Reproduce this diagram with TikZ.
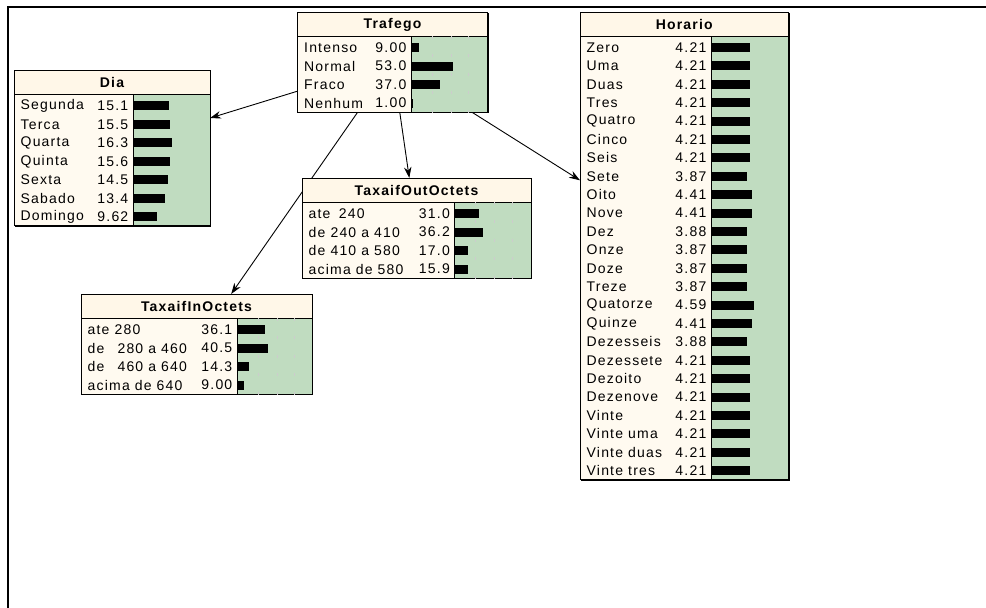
\documentclass[tikz,border=0pt]{standalone}
\usepackage{fontspec}
\setmainfont{Liberation Sans}[LetterSpace=8.5]
\usetikzlibrary{arrows.meta}
\definecolor{cream}{RGB}{255,250,240}
\definecolor{titlecream}{RGB}{255,247,232}
\definecolor{netgreen}{RGB}{192,220,192}
\tikzset{
  boxnode/.style={rectangle, draw=none, inner sep=0pt, outer sep=0pt, anchor=north west},
  lab/.style={anchor=west, inner sep=0pt, font=\fontsize{14}{15}\selectfont},
  val/.style={anchor=east, inner sep=0pt, font=\fontsize{14}{15}\selectfont},
  ttl/.style={inner sep=0pt, font=\fontsize{14}{15}\selectfont\bfseries},
  link/.style={-{Stealth[length=11pt,width=7.5pt]}, line width=0.9pt},
  tickmark/.style={draw=gray!40, line width=0.6pt},
}
% name, left, top, right, n, spacing
\newcommand\netbox[6]{%
  \pgfmathsetmacro\nbW{#4-#2}%
  \pgfmathsetmacro\nbH{26+#5*#6}%
  \node[boxnode, minimum width=\nbW pt, minimum height=\nbH pt] (#1) at (#2,#3) {};%
}
% name, left, top, right, green, n, spacing, title, rows
\newcommand\netdraw[9]{%
  \pgfmathsetmacro\nbSep{#3+24}%
  \pgfmathsetmacro\nbBot{#3+26+#6*#7}%
  \fill[titlecream] (#2,#3) rectangle (#4,\nbSep);
  \fill[cream] (#2,\nbSep) rectangle (#5,\nbBot);
  \fill[netgreen] (#5,\nbSep) rectangle (#4,\nbBot);
  \node[ttl] (#1-t) at ({(#2+#4)/2},{#3+12.5}) {#8};
  \foreach \l/\v/\b [count=\i] in {#9} {
    \pgfmathsetmacro\nbY{\nbSep+11.5+(\i-1)*#7}
    \node[lab] (#1-l\i) at (#2+6.5,\nbY) {\l};
    \node[val] (#1-v\i) at (#5-4.5,\nbY) {\v};
    \fill (#5,\nbY-4.5) rectangle (#5+\b,\nbY+4.5);
  }
  \draw[line width=0.8pt] (#2,#3) rectangle (#4,\nbBot);
  \draw[line width=0.8pt] (#2,\nbSep) -- (#4,\nbSep);
  \draw[line width=0.9pt] (#5,\nbSep) -- (#5,\nbBot);
  \draw[line width=1.4pt] (#4+0.5,#3+1) -- (#4+0.5,\nbBot+0.5) -- (#2+1,\nbBot+0.5);
}
% green, top, n, spacing
\newcommand\netticks[4]{%
  \pgfmathsetmacro\nbSep{#2+24}%
  \foreach \k in {0,...,#3} {
    \foreach \dx in {21,40,57.5} {
      \draw[tickmark] (#1+\dx,\nbSep+1.3+\k*#4-1.6) -- (#1+\dx,\nbSep+1.3+\k*#4+1.6);
    }
  }
}
\begin{document}
\begin{tikzpicture}[x=1pt,y=-1pt]
\useasboundingbox (0,0) rectangle (986,608);
\draw[line width=2pt] (7.5,608) -- (7.5,7) -- (986,7);

% node frames (named)
\netbox{tr}{297.5}{12}{487.5}{4}{18.5}
\netbox{dia}{14}{70.3}{210}{7}{18.5}
\netbox{out}{302}{178}{531}{4}{18.5}
\netbox{in}{81}{294}{312}{4}{18.5}
\netbox{hor}{580}{12}{788.5}{24}{18.4}

% connectors
\draw[link] (tr) -- (dia);
\draw[link] (tr) -- (in);
\draw[link] (tr) -- (out);
\draw[link] (tr) -- (hor);

% contents
\netdraw{tr}{297.5}{12}{487.5}{411}{4}{18.5}{Trafego}{%
  Intenso/9.00/7.5, Normal/53.0/41.6, Fraco/37.0/29.2, Nenhum/1.00/1.6}
\netticks{411}{12}{4}{18.5}

\netdraw{dia}{14}{70.3}{210}{133}{7}{18.5}{Dia}{%
  Segunda/15.1/36.2, Terca/15.5/36.8, Quarta/16.3/38.5, Quinta/15.6/36.9,
  Sexta/14.5/34.6, Sabado/13.4/31.8, Domingo/9.62/23.5}

\netdraw{out}{302}{178}{531}{454.5}{4}{18.5}{TaxaifOutOctets}{%
  {ate\ \hspace{3.3pt}240}/31.0/24.2, de 240 a 410/36.2/28.2,
  de 410 a 580/17.0/13.8, acima de 580/15.9/13.0}
\netticks{454.5}{178}{4}{18.5}

\netdraw{in}{81}{294}{312}{237}{4}{18.5}{TaxaifInOctets}{%
  ate 280/36.1/28.2, {de\ \hspace{8pt}280 a 460}/40.5/31.3,
  {de\ \hspace{8pt}460 a 640}/14.3/12.0, acima de 640/9.00/7.2}
\netticks{237}{294}{4}{18.5}

\netdraw{hor}{580}{12}{788.5}{711}{24}{18.4}{Horario}{%
  Zero/4.21/39.3, Uma/4.21/39.3, Duas/4.21/39.3, Tres/4.21/39.3,
  Quatro/4.21/39.3, Cinco/4.21/39.3, Seis/4.21/39.3, Sete/3.87/36.0,
  Oito/4.41/41.2, Nove/4.41/41.2, Dez/3.88/36.1, Onze/3.87/36.0,
  Doze/3.87/36.0, Treze/3.87/36.0, Quatorze/4.59/42.8, Quinze/4.41/41.2,
  Dezesseis/3.88/36.1, Dezessete/4.21/39.3, Dezoito/4.21/39.3,
  Dezenove/4.21/39.3, Vinte/4.21/39.3, Vinte uma/4.21/39.3,
  Vinte duas/4.21/39.3, Vinte tres/4.21/39.3}
\end{tikzpicture}
\end{document}
